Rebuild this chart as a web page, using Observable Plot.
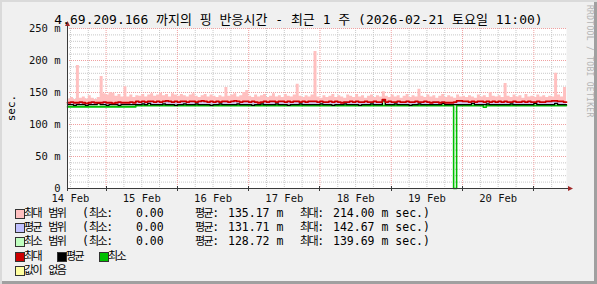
<!DOCTYPE html>
<html><head><meta charset="utf-8">
<script src="https://cdn.jsdelivr.net/npm/d3@7"></script>
<script src="https://cdn.jsdelivr.net/npm/@observablehq/plot@0.6"></script>
<style>
body{margin:0;background:#F0F0F0;}
#wrap{position:relative;width:597px;height:284px;background:#F0F0F0;overflow:hidden;
  font-family:'DejaVu Sans Mono','Noto Sans CJK KR',monospace;color:#000;
  box-shadow: inset 2px 2px 0 #DADADA, inset -3px -3px 0 #A0A0A0;}
.abs{position:absolute;white-space:pre;line-height:1;}
#title{left:0;width:597px;top:12.5px;text-align:center;font-size:13px;}
#plot{position:absolute;left:0;top:0;}
.lg{font-size:11.5px;}
.lg .ko{font-size:11px;letter-spacing:-1.5px;}
.sw{position:absolute;width:8px;height:8px;border:1px solid #333;}
#wm{left:585px;top:5px;font-size:8px;color:#B4B4B4;writing-mode:vertical-rl;letter-spacing:0.3px;}
#ylab{left:11px;top:108px;font-size:11px;transform:translate(-50%,-50%) rotate(-90deg);}
</style></head><body>
<div id="wrap">
  <div id="plot"></div>
  <div id="title" class="abs">4.69.209.166 까지의 핑 반응시간 - 최근 1 주 (2026-02-21 토요일 11:00)</div>
  <div id="wm" class="abs">RRDTOOL / TOBI OETIKER</div>
  <div id="ylab" class="abs">sec.</div>
  <div id="legend"></div>
</div>
<script>
// ---- data ----
const startISO = "2026-02-14T11:00:00Z";
const endISO = "2026-02-21T11:00:00Z";
// hourly top of the "max range" band (ms)
const maxRangeHigh = [
 140,142,139,192,141,143,140,145,141,139,
 142,175,148,146,150,149,144,147,143,159,
 143,146,142,145,144,147,143,146,148,144,
 146,149,145,147,143,148,146,144,147,145,
 143,146,148,144,142,145,147,143,146,144,
 142,145,143,158,144,146,148,143,145,150,
 153,144,142,146,143,145,147,142,144,148,
 143,145,142,147,144,143,146,163,144,142,
 145,143,146,214,143,141,145,142,144,147,
 142,145,143,141,146,144,142,147,143,145,
 141,144,146,142,145,143,151,144,142,146,
 143,145,141,144,147,142,145,143,155,144,
 142,146,143,145,141,144,147,142,145,143,
 141,146,143,144,142,145,143,141,146,143,
 145,142,150,144,143,145,142,164,144,142,
 146,143,145,141,147,143,144,142,146,143,
 145,142,144,143,180,146,143,158];
// hourly max line (ms)
const maxLine = [
 134,135,134,134,135,134,133,134,135,134,
 134,134,135,134,134,133,134,135,134,134,
 134,135,134,136,135,136,135,136,136,135,
 136,135,136,137,136,135,136,135,136,136,
 135,136,136,135,136,137,136,135,136,135,
 136,135,136,136,135,136,137,136,135,136,
 136,135,136,135,134,135,136,135,136,136,
 135,136,136,135,136,135,136,136,135,136,
 135,136,136,136,135,136,135,135,136,135,
 136,135,134,135,135,136,135,136,135,135,
 136,135,135,136,135,135,139,135,136,135,
 135,136,135,135,136,135,135,136,135,135,
 136,135,134,135,135,134,135,134,134,134,
 135,137,137,136,136,135,136,135,136,136,
 135,136,135,136,135,136,135,136,135,135,
 136,135,135,136,135,136,135,135,136,135,
 135,136,136,137,137,136,136,135];
// hourly average line (ms)
const avgLine = [
 131,131,130,131,131,131,130,131,131,131,
 133,131,131,130,131,131,131,130,131,131,
 131,131,131,131,131,132,131,133,131,131,
 131,131,132,131,131,131,130,131,131,132,
 131,131,131,132,131,131,131,131,130,131,
 131,132,131,131,131,131,131,132,131,131,
 131,131,130,131,131,132,131,131,131,131,
 132,131,131,131,130,131,131,131,132,131,
 131,131,131,131,131,132,131,131,131,130,
 131,131,131,132,131,131,131,131,130,131,
 131,131,132,131,131,131,137,131,131,131,
 132,131,131,131,131,130,131,131,132,131,
 131,131,131,131,131,131,133,131,131,131,
 131,131,131,131,131,131,133,131,131,131,
 131,132,131,131,131,131,131,131,131,132,
 131,131,131,131,131,131,131,133,131,131,
 131,131,131,131,133,131,131,131];
// min line as [hour where value starts, value ms]
const minLineSteps = [[0,127.5],[23,129.5],[130,0],[131,129.5],[140,127],[141,129.5]];
// axis ticks / labels
const yMajorTicks = [0,50,100,150,200,250];
const yMinorTicks = [10,20,30,40,60,70,80,90,110,120,130,140,160,170,180,190,210,220,230,240];
const xLabelDays = ["2026-02-14","2026-02-15","2026-02-16","2026-02-17","2026-02-18","2026-02-19","2026-02-20"];
// legend
const legendRows = [
 {color:"#FFC0C0", name:"최대 범위", min:"0.00", avg:"135.17 m", max:"214.00 m sec.)"},
 {color:"#C0C0FF", name:"평균 범위", min:"0.00", avg:"131.71 m", max:"142.67 m sec.)"},
 {color:"#C0FFC0", name:"최소 범위", min:"0.00", avg:"128.72 m", max:"139.69 m sec.)"}
];
const lineLegend = [{color:"#CC0000", name:"최대"},{color:"#000000", name:"평균"},{color:"#00C000", name:"최소"}];
const unknownLegend = {color:"#FFFFA0", name:"값이 없음"};

// ---- build ----
const HOUR = 3600e3;
const t0 = new Date(startISO).getTime(), t1 = new Date(endISO).getTime();
const minLine = [];
for (let i = 0; i < maxRangeHigh.length; i++) {
  let v = minLineSteps[0][1];
  for (const [h, val] of minLineSteps) if (h <= i) v = val;
  minLine.push(v);
}
const rows = maxRangeHigh.map((v, i) => ({t: new Date(t0 + i * HOUR), hi: v, mx: maxLine[i], av: avgLine[i], mn: minLine[i]}));
rows.push({...rows[rows.length - 1], t: new Date(t1)});

const xMinor = d3.utcHour.every(6).range(new Date(t0), new Date(t1 + 1)).filter(d => d.getUTCHours() !== 0);
const xMajor = d3.utcDay.range(new Date(t0), new Date(t1 + 1));
const xTicks = xLabelDays.map(s => new Date(s + "T12:00:00Z"));

const gridGray = "#C8C8C8", gridRed = "#F0A0A0";
const chart = Plot.plot({
  width: 597, height: 210,
  marginLeft: 67, marginRight: 31, marginTop: 28, marginBottom: 22,
  style: {background: "transparent", fontFamily: "'DejaVu Sans Mono',monospace", fontSize: "10.5px", color: "#111"},
  x: {type: "utc", domain: [new Date(t0), new Date(t1)], label: null},
  y: {domain: [0, 250], label: null},
  marks: [
    Plot.frame({fill: "white", stroke: null}),
    Plot.ruleY(yMinorTicks, {stroke: gridGray, strokeDasharray: "1,1"}),
    Plot.ruleX(xMinor, {stroke: gridGray, strokeDasharray: "1,1"}),
    Plot.ruleY(yMajorTicks, {stroke: gridRed, strokeDasharray: "1,1"}),
    Plot.ruleX(xMajor, {stroke: gridRed, strokeDasharray: "1,1"}),
    Plot.areaY(rows, {x: "t", y1: "mx", y2: "hi", fill: "#FFC0C0", curve: "step-after"}),
    Plot.areaY(rows, {x: "t", y1: "av", y2: "mx", fill: "#D0C4F0", curve: "step-after"}),
    Plot.areaY(rows, {x: "t", y1: d => d.mn > 0 ? d.mn : NaN, y2: "av", fill: "#C0FFC0", curve: "step-after"}),
    Plot.lineY(rows, {x: "t", y: "mn", stroke: "#00C000", strokeWidth: 1.6, curve: "step-after"}),
    Plot.lineY(rows, {x: "t", y: "av", stroke: "#000000", strokeWidth: 1.3, curve: "step-after"}),
    Plot.lineY(rows, {x: "t", y: "mx", stroke: "#CC0000", strokeWidth: 1.8, curve: "step-after"}),
    Plot.axisX({ticks: xTicks, tickFormat: d3.utcFormat("%d %b"), tickSize: 0, tickPadding: 6, label: null}),
    Plot.axisY({ticks: yMajorTicks, tickFormat: d => d === 0 ? "0" : d + " m", tickSize: 0, tickPadding: 7, label: null})
  ]
});
document.getElementById("plot").appendChild(chart);

// axis lines and arrows (positions from the scales)
const sx = chart.scale("x"), sy = chart.scale("y");
const svg = d3.select(chart);
const X0 = sx.apply(new Date(t0)), X1 = sx.apply(new Date(t1)), Y0 = sy.apply(0), YT = sy.apply(250);
svg.append("line").attr("x1", X0).attr("x2", X1 + 3).attr("y1", Y0 + 0.5).attr("y2", Y0 + 0.5).attr("stroke", "#3a3a3a");
svg.append("line").attr("x1", X0 + 0.5).attr("x2", X0 + 0.5).attr("y1", Y0 + 3).attr("y2", YT - 3).attr("stroke", "#3a3a3a");
svg.append("path").attr("d", `M${X1 + 2},${Y0 - 2} L${X1 + 7},${Y0 + 0.5} L${X1 + 2},${Y0 + 3} Z`).attr("fill", "#A02828");
svg.append("path").attr("d", `M${X0 - 2},${YT - 2} L${X0 + 0.5},${YT - 7} L${X0 + 3},${YT - 2} Z`).attr("fill", "#A02828");
for (const d of xMajor.concat([new Date(t0)])) {
  const x = Math.round(sx.apply(d)) + 0.5;
  svg.append("line").attr("x1", x).attr("x2", x).attr("y1", Y0 - 2).attr("y2", Y0 + 3).attr("stroke", "#3a3a3a");
}

// legend
const wrap = document.getElementById("wrap");
function add(html, left, cy, cls) {
  const d = document.createElement("div");
  d.className = "abs lg " + (cls || "");
  d.style.left = left + "px"; d.style.top = (cy - 6) + "px";
  d.innerHTML = html; wrap.appendChild(d); return d;
}
function sw(color, left, cy) {
  const d = document.createElement("div");
  d.className = "sw"; d.style.left = left + "px"; d.style.top = (cy - 5) + "px"; d.style.background = color;
  wrap.appendChild(d);
}
const ko = s => s.replace(/([가-힣]+)/g, '<span class="ko">$1</span>');
const rowY = [213.5, 228, 242, 256.5, 270.5];
legendRows.forEach((r, i) => {
  const cy = rowY[i];
  sw(r.color, 15, cy);
  add(ko(r.name), 24, cy);
  add(ko("(최소:"), 82, cy);
  add(r.min, 136, cy);
  add(ko("평균:"), 195, cy);
  add(r.avg, 228, cy);
  add(ko("최대:"), 300, cy);
  add(r.max, 333, cy);
});
lineLegend.forEach((r, i) => {
  const x = 15 + i * 42;
  sw(r.color, x, rowY[3]);
  add(ko(r.name), x + 9, rowY[3]);
});
sw(unknownLegend.color, 15, rowY[4]);
add(ko(unknownLegend.name), 24, rowY[4]);
</script>
</body></html>
